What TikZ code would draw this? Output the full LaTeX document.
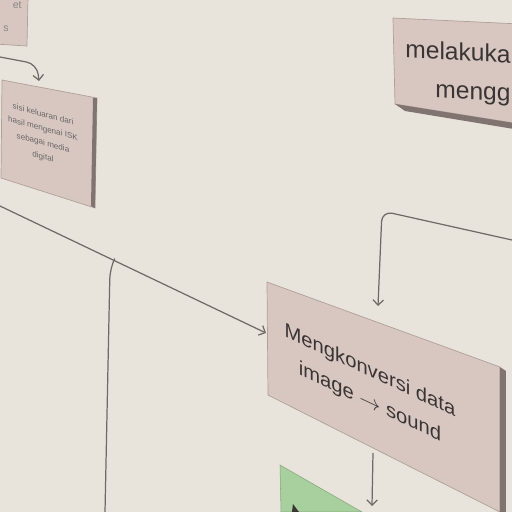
\documentclass[tikz,border=0pt]{standalone}
\usepackage{fontspec}
\setmainfont{Liberation Sans}
\usetikzlibrary{arrows.meta,calc}

\definecolor{wall}{RGB}{233,228,219}
\definecolor{card}{RGB}{215,199,192}
\definecolor{cardrim}{RGB}{176,160,154}
\definecolor{shade}{RGB}{128,116,112}
\definecolor{leaf}{RGB}{168,207,158}
\definecolor{ink}{RGB}{112,106,102}
\definecolor{lettering}{RGB}{58,53,52}

\begin{document}
\begin{tikzpicture}[x=0.02cm,y=-0.02cm,
    card/.style={fill=card, draw=cardrim, line width=0.4pt},
    rim/.style={fill=shade},
    link/.style={draw=ink, line width=0.7pt, rounded corners=6}]
    \fill[wall] (0,0) rectangle (512,512);
    \useasboundingbox (0,0) rectangle (512,512);
    \clip (0,0) rectangle (512,512);

    % the cards, seen at an angle
    \path[card] (-5,-5) -- (28,-3) -- (27,46) -- (-5,44) -- cycle;
    \path[card] (2,80) -- (97,98) -- (95,208) -- (1,178) -- cycle;
    \fill[rim] (93,98) -- (97,98) -- (95,208) -- (91,206) -- cycle;
    \path[card] (393,18) -- (520,24) -- (520,124) -- (395,104) -- cycle;
    \fill[rim] (395,104) -- (520,124) -- (520,130) -- (405,111) -- cycle;
    \path[card] (267,282) -- (500,367) -- (500,512) -- (268,395) -- cycle;
    \fill[rim] (500,367) -- (506,371) -- (506,512) -- (500,512) -- cycle;
    \path[fill=leaf, draw=leaf!80!black, line width=0.3pt] (280,465) -- (362,512) -- (281,512) -- cycle;
    \fill[lettering] (293,504) -- (299,512) -- (292,512) -- cycle;

    \begin{scope}[every node/.style={text=lettering, inner sep=0pt}]
        \node[anchor=base east, text=lettering!60, font=\fontsize{6}{6}\selectfont] (frag1) at (22,8) {et};
        \node[anchor=base east, text=lettering!60, font=\fontsize{6}{6}\selectfont] (frag2) at (9,31) {s};
        \node[yslant=-0.27, align=center, text=lettering!75, font=\fontsize{4.6}{8}\selectfont] (note) at (43,136)
            {sisi keluaran dari\\hasil mengenai ISK\\sebagai media\\digital};
        \node[anchor=base west, yslant=-0.06, font=\fontsize{14}{14}\selectfont] (does) at (405,57) {melakukan};
        \node[anchor=base west, yslant=-0.06, font=\fontsize{14}{14}\selectfont] (uses) at (435,97) {menggunakan};
        \node[yslant=-0.47, align=center, font=\fontsize{11.5}{18}\selectfont] (convert) at (370,387)
            {Mengkonversi data\\image $\to$ sound};
    \end{scope}

    % connector ends
    \coordinate (tl-out) at (0,57);
    \coordinate (tl-bend) at (37,64);
    \coordinate (note-in) at (39,81);
    \coordinate (tr-out) at (512,240);
    \coordinate (tr-bend) at (382,211);
    \coordinate (convert-in) at (378,306);
    \coordinate (note-out) at (0,206);
    \coordinate (split) at (114,260);
    \coordinate (convert-side) at (266,333);
    \coordinate (down-end) at (105,512);
    \coordinate (convert-out) at (373,453);
    \coordinate (leaf-in) at (372,506);

    \begin{scope}[>={Straight Barb[length=3pt,width=6pt]}]
        \draw[link, ->] (tl-out) -- (tl-bend) -- (note-in);
        \draw[link, ->] (tr-out) -- (tr-bend) -- (convert-in);
        \draw[link, ->] (note-out) -- (convert-side);
        \draw[link] (split) -- ($(split)+(-4,8)$) -- (down-end);
        \draw[link, ->] (convert-out) -- (leaf-in);
    \end{scope}
\end{tikzpicture}
\end{document}
